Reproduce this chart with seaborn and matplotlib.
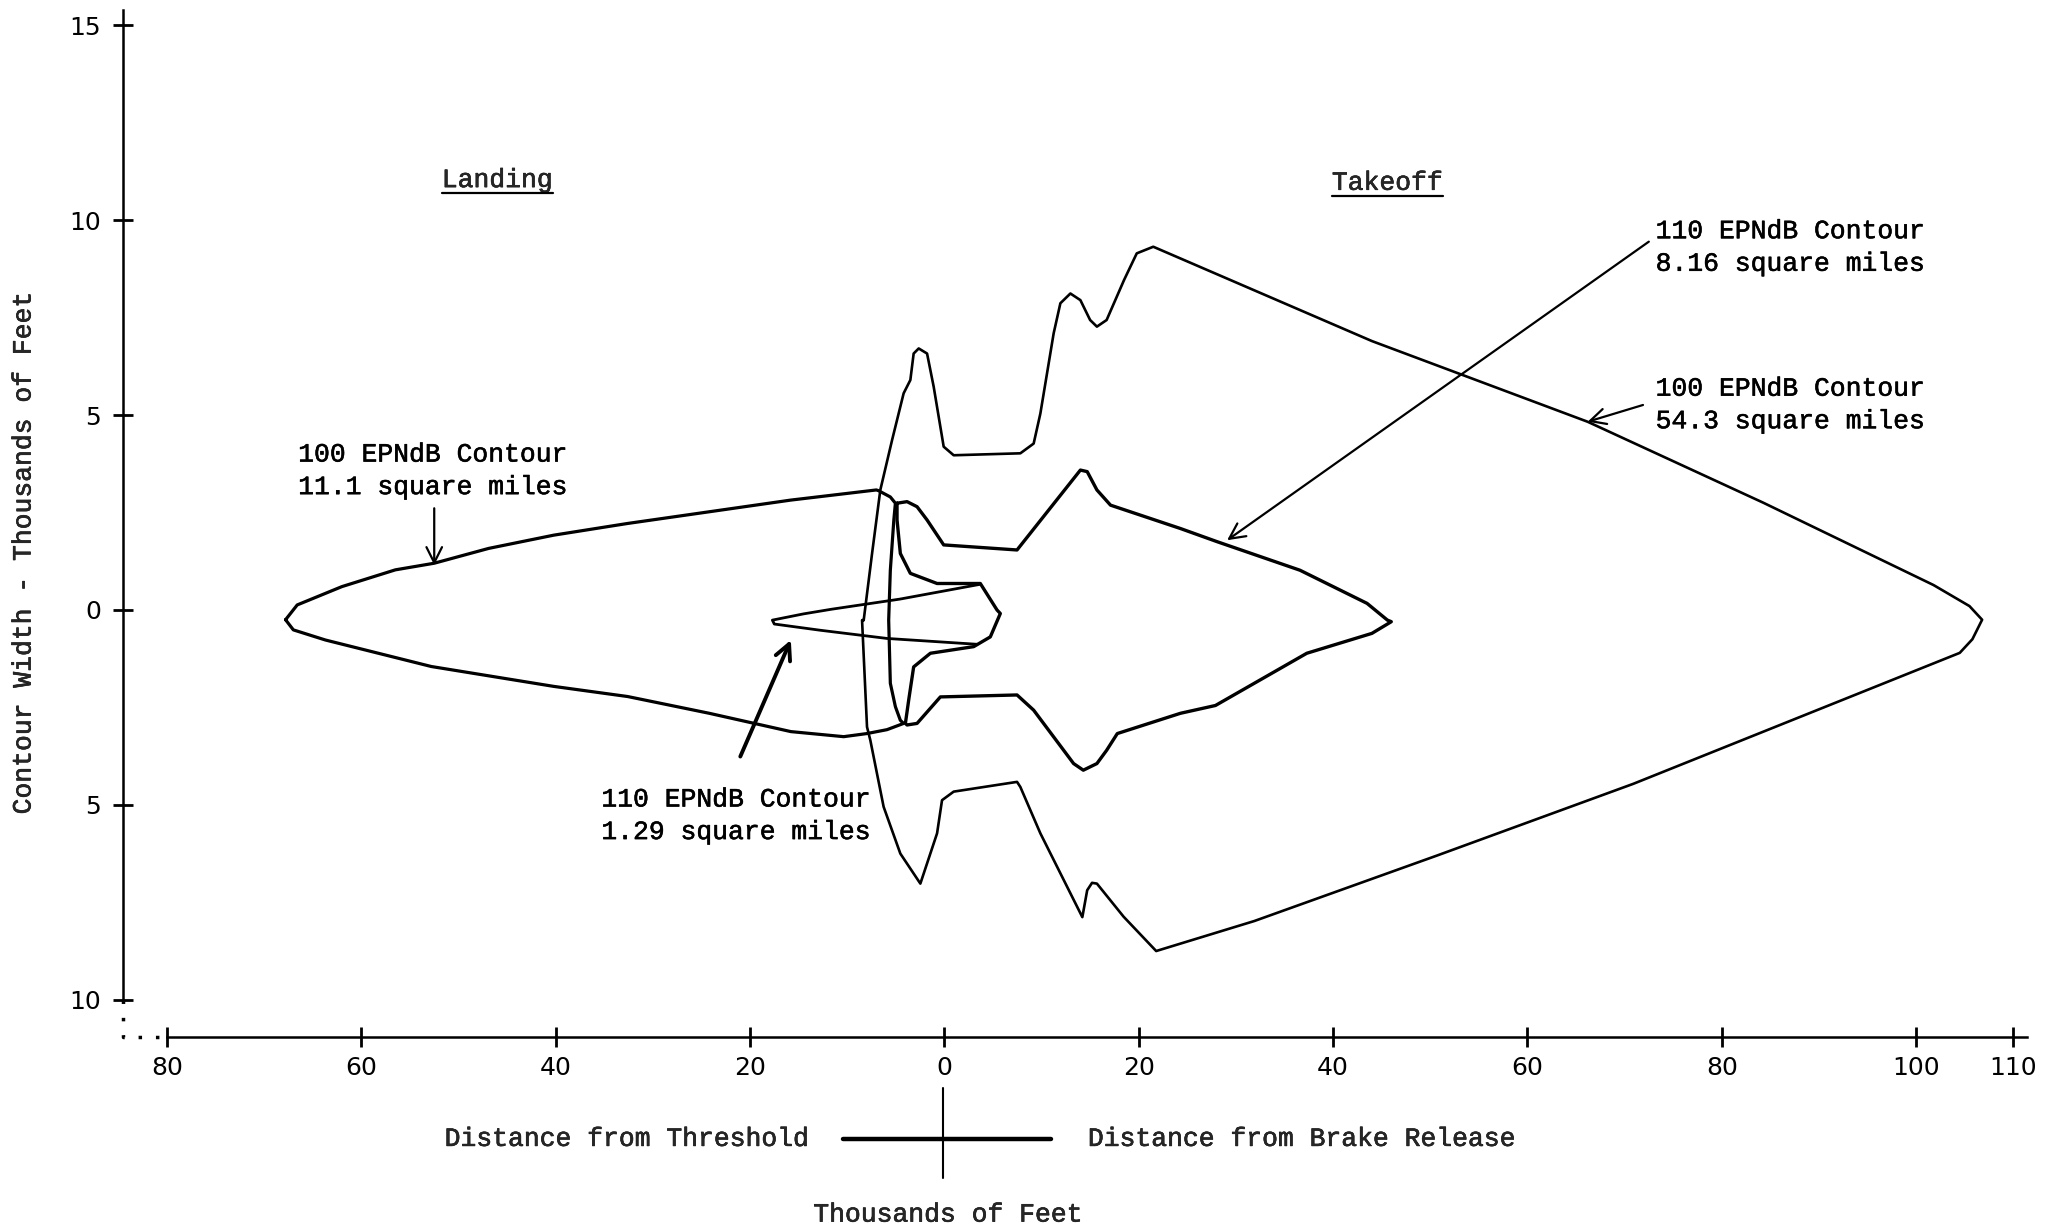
import matplotlib
matplotlib.use("Agg")
import matplotlib.pyplot as plt
import matplotlib.patheffects as pe
import numpy as np
import pandas as pd
import seaborn as sns
from matplotlib.lines import Line2D
from matplotlib.transforms import IdentityTransform

# contour outlines, thousands of feet (x < 0: distance from threshold, x > 0: from brake release)
landing_100_x = [-67.8, -66.6, -62.0, -56.5, -52.5, -46.9, -40.2, -32.6, -24.2, -15.8, -7.0,
                 -6.76, -5.56, -5.04, -5.2, -5.56, -5.73, -5.56, -5.04, -4.53, -4.19,
                 -5.9, -7.96, -10.36, -15.8, -24.2, -32.6, -40.2, -52.8, -63.7, -67.0, -67.8]
landing_100_y = [-0.25, 0.13, 0.6, 1.03, 1.2, 1.58, 1.92, 2.22, 2.52, 2.82, 3.08,
                 3.06, 2.9, 2.74, 2.31, 1.02, -0.26, -1.88, -2.48, -2.83, -2.91,
                 -3.07, -3.17, -3.25, -3.12, -2.65, -2.22, -1.96, -1.45, -0.77, -0.51, -0.25]

landing_110_x = [3.7, -4.56, -11.6, -14.5, -17.7, -17.5, -12.76, -5.9, 3.37]
landing_110_y = [0.66, 0.28, 0.02, -0.1, -0.26, -0.36, -0.52, -0.73, -0.88]

takeoff_110_x = [-4.87, -3.84, -2.81, -1.78, -0.07, 7.48, 14.0, 14.7, 15.7, 17.1, 24.3, 28.1,
                 36.6, 43.5, 45.6, 46.0, 44.0, 37.3, 27.9, 24.3, 17.8, 16.7, 15.7, 14.3,
                 13.3, 9.19, 7.48, -0.41, -2.81, -3.84, -4.01, -3.67, -3.16, -1.44, 3.02,
                 4.73, 5.76, 5.42, 3.7, -0.75, -3.5, -4.53, -4.87, -4.87]
takeoff_110_y = [2.74, 2.78, 2.65, 2.31, 1.67, 1.54, 3.59, 3.55, 3.08, 2.69, 2.09, 1.75,
                 1.02, 0.17, -0.26, -0.3, -0.6, -1.11, -2.45, -2.65, -3.17, -3.6, -3.94, -4.11,
                 -3.94, -2.57, -2.18, -2.23, -2.91, -2.95, -2.91, -2.31, -1.46, -1.11, -0.94,
                 -0.69, -0.09, 0.0, 0.68, 0.68, 0.94, 1.45, 2.31, 2.74]

takeoff_100_x = [-8.3, -7.44, -6.59, -5.38, -4.19, -3.5, -3.16, -2.64, -1.78, -1.1, -0.07,
                 0.96, 7.82, 9.19, 9.88, 11.25, 11.94, 12.97, 14.0, 15.0, 15.7, 16.7, 18.5,
                 19.8, 21.5, 44.0, 66.2, 84.3, 101.8, 105.5, 106.8, 105.8, 104.5, 91.0, 70.9,
                 50.7, 31.9, 21.8, 18.45, 15.7, 15.2, 14.7, 14.2, 9.88, 7.82, 7.48, 0.96,
                 -0.24, -0.75, -2.47, -4.53, -6.25, -7.62, -7.96, -8.47, -8.3]
takeoff_100_y = [-0.26, 1.45, 3.08, 4.36, 5.56, 5.9, 6.58, 6.71, 6.58, 5.73, 4.19,
                 3.97, 4.02, 4.27, 5.04, 7.1, 7.87, 8.12, 7.95, 7.44, 7.27, 7.44, 8.47,
                 9.15, 9.32, 6.9, 4.83, 2.75, 0.64, 0.1, -0.25, -0.75, -1.1, -2.45, -4.46,
                 -6.3, -7.98, -8.75, -7.87, -7.02, -7.0, -7.19, -7.88, -5.73, -4.54, -4.41, -4.66,
                 -4.88, -5.73, -7.02, -6.25, -5.05, -3.34, -3.0, -0.26, -0.26]

x_ticks = [-80, -60, -40, -20, 0, 20, 40, 60, 80, 100, 110]
x_tick_labels = ["80", "60", "40", "20", "0", "20", "40", "60", "80", "100", "110"]
y_ticks = [-10, -5, 0, 5, 10, 15]
y_tick_labels = ["10", "5", "0", "5", "10", "15"]

callout_texts = ["100 EPNdB Contour\n11.1 square miles",
                 "110 EPNdB Contour\n8.16 square miles",
                 "100 EPNdB Contour\n54.3 square miles",
                 "110 EPNdB Contour\n1.29 square miles"]
callout_pos = [(-66.5, 3.57), (73.2, 9.3), (73.2, 5.26), (-35.3, -5.28)]
arrow_tail = [(-52.5, 2.61), (72.5, 9.45), (71.9, 5.26), (-21.0, -3.76)]
arrow_head = [(-52.5, 1.15), (29.1, 1.79), (66.2, 4.83), (-15.8, -0.77)]
arrow_width = [1.6, 1.6, 1.6, 2.8]

sns.set_theme(style="white")
plt.rcParams["font.family"] = ["DejaVu Sans"]
mono = ["Liberation Mono", "DejaVu Sans Mono"]
# typewriter text in the scan is a bit heavier than Courier New regular
ink = [pe.withStroke(linewidth=0.4, foreground="black")]

fig = plt.figure(figsize=(20.48, 12.29), dpi=100)
ax = fig.add_axes([0.0602, 0.1564, 0.9323, 0.842])

contours = [
    (landing_100_x, landing_100_y, 2.3),
    (landing_110_x, landing_110_y, 2.0),
    (takeoff_110_x, takeoff_110_y, 2.4),
    (takeoff_100_x, takeoff_100_y, 1.9),
]
for xs, ys, lw in contours:
    df = pd.DataFrame({"x": xs, "y": ys})
    sns.lineplot(data=df, x="x", y="y", sort=False, estimator=None,
                 color="black", linewidth=lw, ax=ax)

for txt, pos in zip(callout_texts, callout_pos):
    ax.text(pos[0], pos[1], txt, family=mono, fontsize=19, ha="left", va="center",
            linespacing=1.45, color="black", path_effects=ink)
for tail, head, w in zip(arrow_tail, arrow_head, arrow_width):
    ax.annotate("", xy=head, xytext=tail,
                arrowprops=dict(arrowstyle="->", lw=w, color="black",
                                mutation_scale=28, shrinkA=0, shrinkB=0))

landing_t = ax.text(-46.0, 11.03, "Landing", family=mono, fontsize=19, ha="center",
                    va="center", path_effects=ink)
takeoff_t = ax.text(45.6, 10.96, "Takeoff", family=mono, fontsize=19, ha="center",
                    va="center", path_effects=ink)

ax.set_xlim(-84.5, 112)
ax.set_ylim(-10.95, 15.6)
ax.set_xticks(x_ticks, x_tick_labels)
ax.set_yticks(y_ticks, y_tick_labels)
ax.tick_params(axis="both", direction="inout", length=14, width=2, labelsize=18,
               colors="black", bottom=True, left=True)
ax.tick_params(axis="x", pad=7)
ax.tick_params(axis="y", pad=9)
ax.set_xlabel("")
ax.set_ylabel("")
for side in ["top", "right"]:
    ax.spines[side].set_visible(False)
ax.spines["left"].set_bounds(-10, 15.4)
ax.spines["bottom"].set_bounds(-80, 111.4)
for side in ["left", "bottom"]:
    ax.spines[side].set_color("black")
    ax.spines[side].set_linewidth(1.8)
ax.plot([-84.5, -84.5, -80], [-10, -10.95, -10.95], ls=(0, (1, 4)), lw=2.5,
        color="black", clip_on=False)

fig.text(0.0115, 0.5505, "Contour Width - Thousands of Feet", family=mono, fontsize=19,
         rotation=90, ha="center", va="center", path_effects=ink)
fig.text(0.3954, 0.0733, "Distance from Threshold", family=mono, fontsize=19,
         ha="right", va="center", path_effects=ink)
fig.text(0.5312, 0.0733, "Distance from Brake Release", family=mono, fontsize=19,
         ha="left", va="center", path_effects=ink)
fig.text(0.463, 0.0117, "Thousands of Feet", family=mono, fontsize=19, ha="center",
         va="center", path_effects=ink)
fig.add_artist(Line2D([0.4114, 0.5134], [0.0733, 0.0733], color="black", lw=3.2))
fig.add_artist(Line2D([0.4605, 0.4605], [0.1148, 0.0414], color="black", lw=1.5))

# underline the two section headings
fig.canvas.draw()
for t in (landing_t, takeoff_t):
    bb = t.get_window_extent()
    fig.add_artist(Line2D([bb.x0, bb.x1], [bb.y0 - 1, bb.y0 - 1], color="black",
                          lw=1.6, transform=IdentityTransform()))

fig.savefig("out.png", dpi=100, facecolor="white")
